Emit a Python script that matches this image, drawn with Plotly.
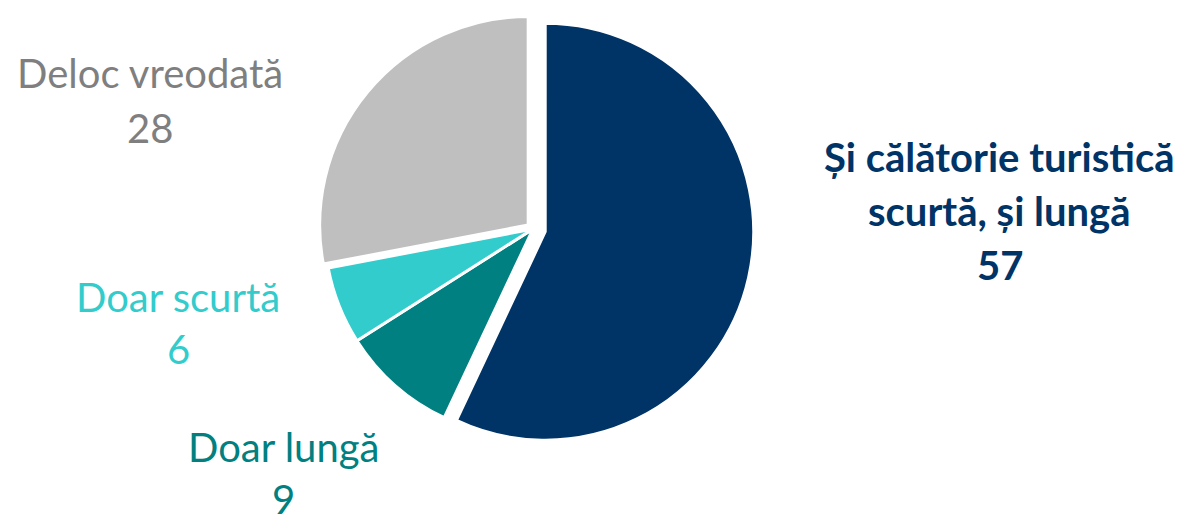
import plotly.graph_objects as go

# data
labels = ["Și călătorie turistică scurtă, și lungă", "Doar lungă", "Doar scurtă", "Deloc vreodată"]
label_lines = [["Și călătorie turistică", "scurtă, și lungă"], ["Doar lungă"], ["Doar scurtă"], ["Deloc vreodată"]]
values = [57, 9, 6, 28]
colors = ["#003366", "#008080", "#33CCCC", "#BFBFBF"]
text_colors = ["#003366", "#008080", "#33CCCC", "#7F7F7F"]
pulls = [0.06, 0, 0, 0.03]

W, H = 1191, 518

fig = go.Figure(go.Pie(
    labels=labels,
    values=values,
    sort=False,
    direction="clockwise",
    rotation=0,
    pull=pulls,
    marker=dict(colors=colors, line=dict(color="white", width=3)),
    textinfo="none",
    hoverinfo="label+value",
    domain=dict(x=[301 / W, 749 / W], y=[1 - 442 / H, 1]),
    showlegend=False,
))

# label placement: (x centre px, y of first line px, line step px, bold)
label_pos = [(992, 148.5, 54, True), (275, 439, 52, False), (170, 288.5, 52, False), (142, 65, 55, False)]

for lines, val, col, (px, py, step, bold) in zip(label_lines, values, text_colors, label_pos):
    rows = lines + [str(val)]
    for i, row in enumerate(rows):
        txt = f"<b>{row}</b>" if bold else row
        fig.add_annotation(
            x=px / W, y=1 - (py + i * step) / H, xref="paper", yref="paper",
            text=txt, showarrow=False, xanchor="center", yanchor="middle",
            font=dict(family="Lato", size=40, color=col),
        )

fig.update_layout(
    width=W, height=H,
    margin=dict(l=0, r=0, t=0, b=0),
    paper_bgcolor="white",
    plot_bgcolor="white",
)

fig.write_html("out.html")
